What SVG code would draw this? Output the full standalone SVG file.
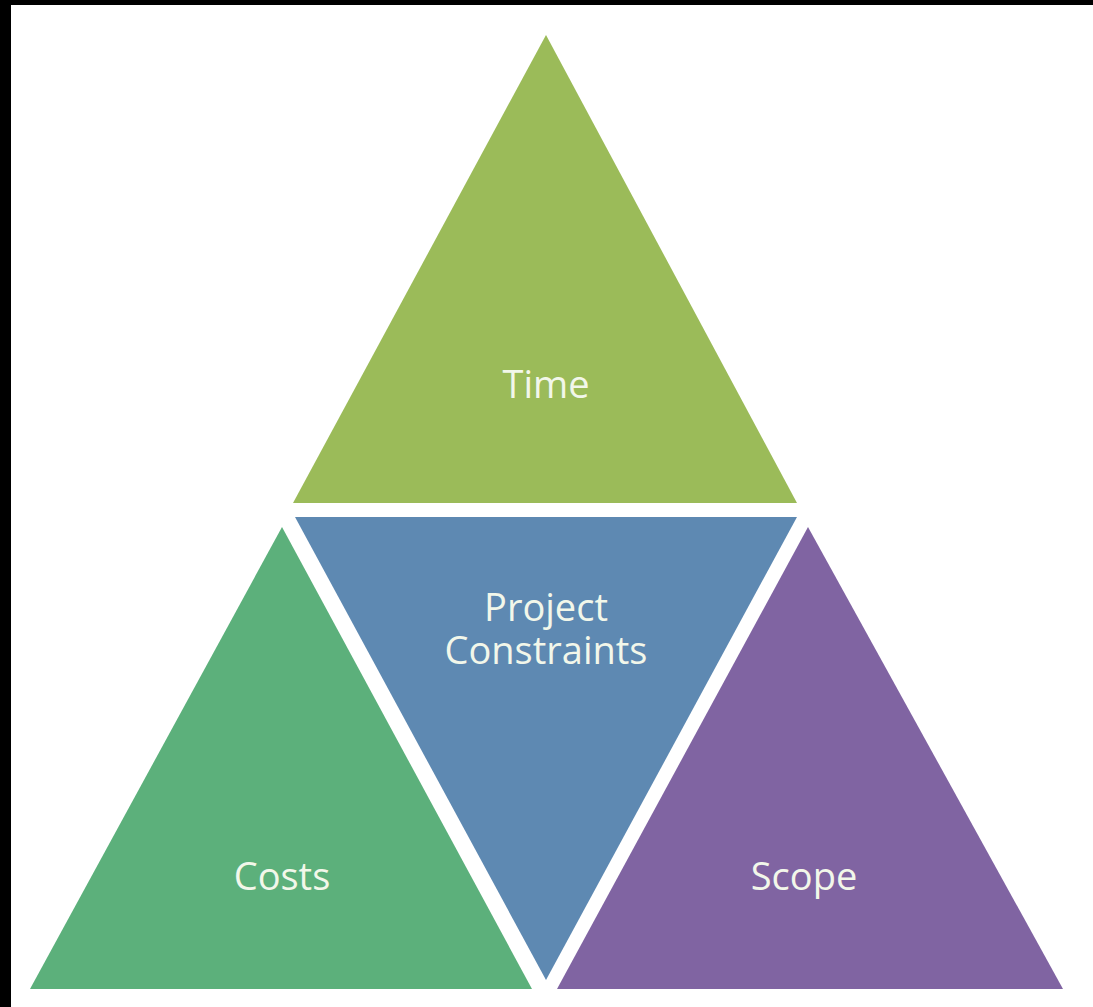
<svg xmlns="http://www.w3.org/2000/svg" width="1093" height="1007" viewBox="0 0 1093 1007">
<style>
.lbl{font-family:"Open Sans","Liberation Sans",sans-serif;font-size:38px;fill:#F2F7EA;text-anchor:middle}
</style>
<rect x="0" y="0" width="1093" height="1007" fill="#FFFFFF"/>
<rect x="0" y="0" width="11" height="1007" fill="#000000"/>
<rect x="0" y="0" width="1093" height="5" fill="#000000"/>
<g id="time">
<polygon points="546,35 293,503 797,503" fill="#9BBB59"/>
<text class="lbl" x="546" y="398">Time</text>
</g>
<g id="constraints">
<polygon points="295,517 797,517 546,980" fill="#5E89B2"/>
<text class="lbl" x="546" y="621"><tspan x="546" y="621">Project</tspan><tspan x="546" y="664">Constraints</tspan></text>
</g>
<g id="costs">
<polygon points="282,527 30,989 532,989" fill="#5CB07B"/>
<text class="lbl" x="282" y="890">Costs</text>
</g>
<g id="scope">
<polygon points="808,527 557,989 1063,989" fill="#8064A2"/>
<text class="lbl" x="804" y="890">Scope</text>
</g>
<g id="connectors"></g>
</svg>
